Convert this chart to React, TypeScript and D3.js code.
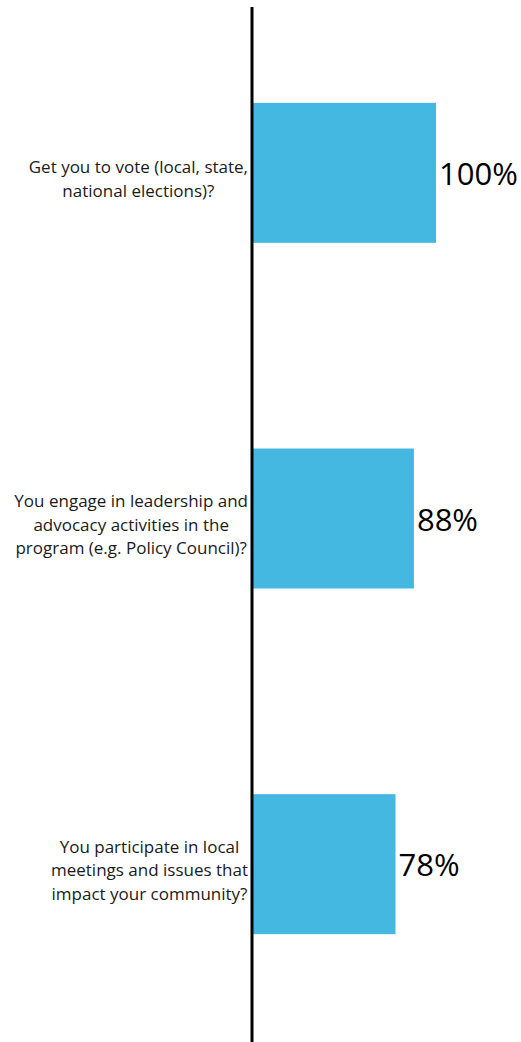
import { useLayoutEffect, useRef } from 'react'
import * as d3 from 'd3'

const questions = [
  ['Get you to vote (local, state,', 'national elections)?'],
  ['You engage in leadership and', 'advocacy activities in the', 'program (e.g. Policy Council)?'],
  ['You participate in local', 'meetings and issues that', 'impact your community?'],
]
const values = [1.0, 0.88, 0.78]
const valueLabels = ['100%', '88%', '78%']

const width = 521
const height = 1042

export default function App() {
  const ref = useRef<SVGSVGElement>(null)

  const y = d3
    .scaleBand<number>()
    .domain(values.map((_, i) => i))
    .range([0, 1037])
    .paddingInner(0.595)
    .paddingOuter(0.2975)

  const x = d3.scaleLinear().domain([0, 1]).range([252, 436])

  const font = '"Open Sans", Lato, sans-serif'
  const lineH = 23.5
  const labelRight = 248

  // label blocks are right-aligned to the axis, lines centred inside the block
  useLayoutEffect(() => {
    if (!ref.current) return
    d3.select(ref.current)
      .selectAll<SVGTextElement, unknown>('text.q')
      .each(function () {
        const spans = d3.select(this).selectAll<SVGTSpanElement, unknown>('tspan')
        let maxW = 0
        spans.each(function () {
          maxW = Math.max(maxW, this.getComputedTextLength())
        })
        spans.attr('x', labelRight - maxW / 2)
      })
  }, [])

  return (
    <svg
      ref={ref}
      width={width}
      height={height}
      style={{ position: 'absolute', left: 0, top: 0, background: '#fff' }}
    >
      {values.map((v, i) => {
        const y0 = y(i) ?? 0
        const cy = y0 + y.bandwidth() / 2
        const lines = questions[i]
        const firstY = cy + 7 - ((lines.length - 1) * lineH) / 2
        return (
          <g key={i}>
            <rect
              x={x(0)}
              y={y0}
              width={x(v) - x(0)}
              height={y.bandwidth()}
              fill="#45b8e1"
            />
            <text
              x={x(v) + 3}
              y={cy + 4}
              fontSize={31}
              fontFamily={font}
              dominantBaseline="middle"
              fill="#000"
            >
              {valueLabels[i]}
            </text>
            <text className="q" textAnchor="middle" fontSize={17} fontFamily={font} fill="#1a1a1a">
              {lines.map((l, j) => (
                <tspan key={j} x={135} y={firstY + j * lineH + 5}>
                  {l}
                </tspan>
              ))}
            </text>
          </g>
        )
      })}
      <line x1={x(0)} x2={x(0)} y1={7} y2={height} stroke="#000" strokeWidth={3} />
    </svg>
  )
}
